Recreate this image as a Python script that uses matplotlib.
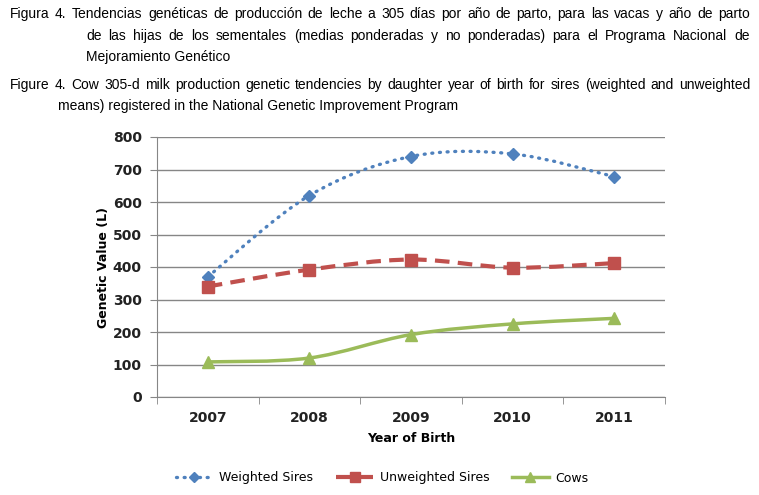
import matplotlib
matplotlib.use("Agg")
import matplotlib.pyplot as plt
from matplotlib.path import Path
from matplotlib.patches import PathPatch
from matplotlib.lines import Line2D

years = ["2007", "2008", "2009", "2010", "2011"]
weighted = [370, 620, 740, 748, 678]
unweighted = [340, 392, 423, 398, 412]
cows = [108, 120, 192, 225, 242]

caption_es = ["Figura 4. Tendencias genéticas de producción de leche a 305 días por año de parto, para las vacas y año de parto",
              "de las hijas de los sementales (medias ponderadas y no ponderadas) para el Programa Nacional de",
              "Mejoramiento Genético"]
caption_en = ["Figure 4. Cow 305-d milk production genetic tendencies by daughter year of birth for sires (weighted and unweighted",
              "means) registered in the National Genetic Improvement Program"]

blue = "#4F81BD"
red = "#C0504D"
green = "#9BBB59"
grid = "#868686"
capfont = ["Liberation Sans", "DejaVu Sans"]
W, H = 759, 495


def smooth_path(xs, ys):
    # excel style smoothed line: cubic bezier through the points
    pts = list(zip(xs, ys))
    n = len(pts)
    verts = [pts[0]]
    codes = [Path.MOVETO]
    for i in range(n - 1):
        p0 = pts[i - 1] if i > 0 else pts[i]
        p1 = pts[i]
        p2 = pts[i + 1]
        p3 = pts[i + 2] if i + 2 < n else pts[i + 1]
        c1 = (p1[0] + (p2[0] - p0[0]) / 6, p1[1] + (p2[1] - p0[1]) / 6)
        c2 = (p2[0] - (p3[0] - p1[0]) / 6, p2[1] - (p3[1] - p1[1]) / 6)
        verts += [c1, c2, p2]
        codes += [Path.CURVE4] * 3
    return Path(verts, codes)


def caption_line(fig, line, x0, y, justify, x1=750):
    # justified caption line: words spread out to reach x1 (pixels)
    if not justify:
        fig.text(x0 / W, 1 - y / H, line, fontsize=10, family=capfont, va="center")
        return
    r = fig.canvas.get_renderer()
    words = line.split(" ")
    txts = [fig.text(0, 1 - y / H, w, fontsize=10, family=capfont, va="center") for w in words]
    widths = [t.get_window_extent(r).width for t in txts]
    gap = (x1 - x0 - sum(widths)) / (len(words) - 1)
    x = x0
    for t, w in zip(txts, widths):
        t.set_x(x / W)
        x += w + gap


fig = plt.figure(figsize=(7.59, 4.95), dpi=100)
ax = fig.add_axes([157 / W, 1 - 397 / H, 508 / W, 260 / H])

x = list(range(len(years)))
series = [
    (weighted, blue, (0, (0.3, 2.0)), "D", 6.5, 2.4, "Weighted Sires"),
    (unweighted, red, (0, (3.5, 2.0)), "s", 8, 3, "Unweighted Sires"),
    (cows, green, "-", "^", 8, 2.5, "Cows"),
]
handles = []
for vals, col, ls, mk, ms, lw, name in series:
    patch = PathPatch(smooth_path(x, vals), facecolor="none", edgecolor=col,
                      lw=lw, linestyle=ls, capstyle="round" if mk == "D" else "butt",
                      zorder=3)
    ax.add_patch(patch)
    ax.plot(x, vals, linestyle="none", marker=mk, ms=ms, color=col, zorder=4)
    h = Line2D([], [], color=col, lw=lw, linestyle=ls, marker=mk, ms=ms - 1, label=name)
    if mk == "D":
        h.set_dash_capstyle("round")
    handles.append(h)

ax.set_xlim(-0.5, 4.5)
ax.set_ylim(0, 800)
ax.set_yticks(range(0, 801, 100))
ax.set_xticks(x)
ax.set_xticklabels(years)
ax.set_xticks([i - 0.5 for i in range(6)], minor=True)
ax.tick_params(axis="x", which="major", length=0, pad=10)
ax.tick_params(axis="x", which="minor", length=5, color=grid, direction="out")
ax.tick_params(axis="y", length=5, color=grid, direction="out", pad=6)
for lab in ax.get_xticklabels() + ax.get_yticklabels():
    lab.set_fontweight("bold")
    lab.set_fontsize(10)
    lab.set_color("#222222")
ax.yaxis.grid(True, color=grid, lw=1)
ax.set_axisbelow(True)
for s in ["top", "right"]:
    ax.spines[s].set_visible(False)
ax.spines["left"].set_color(grid)
ax.spines["bottom"].set_color(grid)
ax.set_ylabel("Genetic Value (L)", fontweight="bold", fontsize=9, labelpad=2)
ax.set_xlabel("Year of Birth", fontweight="bold", fontsize=9, labelpad=5)

fig.legend(handles=handles, loc="center", bbox_to_anchor=(382 / W, 1 - 478 / H), ncol=3,
           frameon=False, handlelength=3, handletextpad=0.5, columnspacing=1.8, fontsize=9)

caption_line(fig, caption_es[0], 10, 14, True)
caption_line(fig, caption_es[1], 86, 36, True)
caption_line(fig, caption_es[2], 86, 57, False)
caption_line(fig, caption_en[0], 10, 85, True)
caption_line(fig, caption_en[1], 58, 106, False)

fig.savefig("out.png", dpi=100)
